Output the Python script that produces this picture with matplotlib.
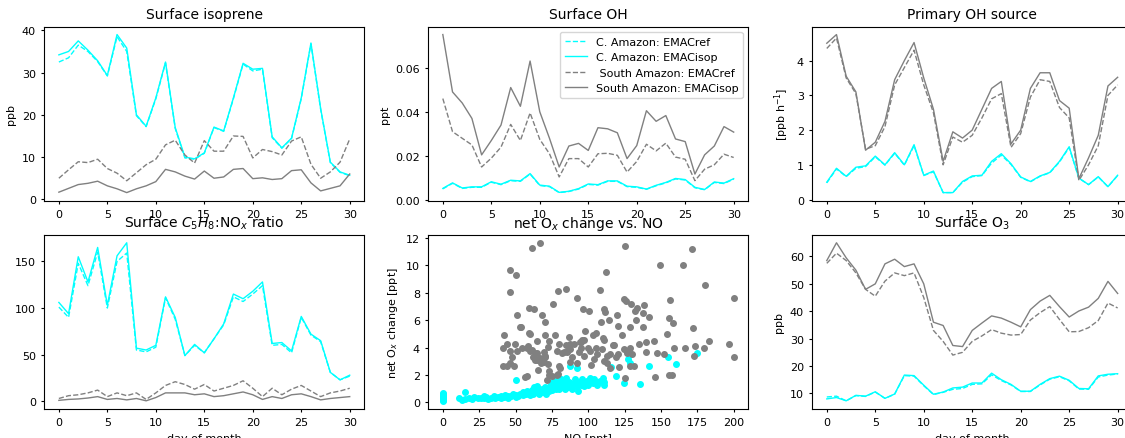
import numpy as np
from matplotlib import pyplot as plt

days = list(range(31))

# surface isoprene [ppb]
iso_c_ref = [32.5, 33.5, 36.5, 35.0, 32.6, 29.2, 38.5, 35.0, 19.8, 17.2, 23.8, 32.3, 16.8, 9.8, 9.5,
             10.9, 17.0, 16.1, 23.8, 32.0, 30.4, 30.8, 14.6, 12.1, 14.4, 23.8, 36.8, 21.3, 8.7, 6.4, 5.6]
iso_c_isop = [34.2, 35.0, 37.5, 35.3, 32.8, 29.3, 39.0, 35.8, 20.0, 17.3, 24.0, 32.5, 17.0, 10.0, 9.6,
              11.0, 17.1, 16.2, 24.0, 32.2, 30.8, 31.0, 14.8, 12.2, 14.5, 24.0, 37.0, 21.5, 8.8, 6.5, 5.7]
iso_s_ref = [5.0, 7.0, 8.9, 8.7, 9.5, 7.3, 6.2, 4.4, 6.3, 8.2, 9.5, 12.9, 14.0, 10.5, 8.6,
             13.9, 11.4, 11.4, 15.0, 14.9, 9.8, 11.8, 11.3, 10.5, 13.8, 14.8, 8.3, 5.0, 6.5, 8.8, 14.3]
iso_s_isop = [1.7, 2.6, 3.5, 3.8, 4.3, 3.2, 2.5, 1.6, 2.5, 3.2, 4.2, 7.1, 6.5, 5.5, 4.8,
              6.7, 5.0, 5.3, 7.1, 7.3, 4.9, 5.1, 4.7, 4.9, 6.8, 7.0, 3.9, 2.0, 2.6, 3.2, 6.0]

# surface OH [ppt]
oh_c_ref = [0.0051, 0.0076, 0.0053, 0.0058, 0.0058, 0.0081, 0.0070, 0.0088, 0.0085, 0.0118, 0.0066,
            0.0061, 0.0034, 0.0039, 0.0050, 0.0071, 0.0068, 0.0085, 0.0085, 0.0061, 0.0058, 0.0049,
            0.0065, 0.0078, 0.0096, 0.0091, 0.0056, 0.0047, 0.0080, 0.0075, 0.0095]
oh_c_isop = [0.0053, 0.0078, 0.0055, 0.0060, 0.0060, 0.0083, 0.0072, 0.0090, 0.0087, 0.0120, 0.0068,
             0.0063, 0.0035, 0.0040, 0.0052, 0.0073, 0.0070, 0.0087, 0.0087, 0.0063, 0.0060, 0.0050,
             0.0067, 0.0080, 0.0098, 0.0093, 0.0058, 0.0048, 0.0082, 0.0077, 0.0097]
oh_s_ref = [0.046, 0.031, 0.028, 0.025, 0.015, 0.019, 0.024, 0.0343, 0.027, 0.0395, 0.0275,
            0.021, 0.0105, 0.0188, 0.0188, 0.015, 0.021, 0.0212, 0.0203, 0.0127, 0.0175, 0.0253,
            0.0223, 0.0258, 0.0195, 0.0185, 0.0088, 0.014, 0.016, 0.0208, 0.0193]
oh_s_isop = [0.075, 0.049, 0.044, 0.037, 0.0205, 0.027, 0.034, 0.051, 0.0425, 0.063, 0.040,
             0.028, 0.015, 0.0245, 0.0257, 0.0225, 0.0328, 0.0323, 0.0305, 0.0188, 0.0247, 0.0405,
             0.0357, 0.0383, 0.0277, 0.0265, 0.0118, 0.0205, 0.0245, 0.0333, 0.0308]

# primary OH source [ppb/h]
poh_c_ref = [0.48, 0.88, 0.66, 0.90, 0.95, 1.23, 0.99, 1.33, 0.99, 1.55, 0.69, 0.80, 0.20, 0.20, 0.50,
             0.66, 0.69, 1.05, 1.28, 1.01, 0.64, 0.51, 0.67, 0.77, 1.08, 1.50, 0.61, 0.43, 0.65, 0.37, 0.69]
poh_c_isop = [0.50, 0.90, 0.67, 0.93, 0.97, 1.25, 1.00, 1.35, 1.00, 1.58, 0.70, 0.82, 0.20, 0.20, 0.52,
              0.68, 0.70, 1.10, 1.32, 1.03, 0.65, 0.52, 0.68, 0.78, 1.10, 1.52, 0.62, 0.43, 0.66, 0.37, 0.70]
poh_s_ref = [4.35, 4.65, 3.50, 3.05, 1.45, 1.55, 2.10, 3.30, 3.80, 4.30, 3.30, 2.50, 1.00, 1.80, 1.65,
             1.85, 2.35, 2.90, 3.05, 1.50, 1.90, 2.95, 3.45, 3.40, 2.65, 2.35, 0.55, 1.00, 1.55, 3.00, 3.30]
poh_s_isop = [4.50, 4.75, 3.55, 3.10, 1.42, 1.65, 2.25, 3.45, 4.00, 4.52, 3.50, 2.60, 1.10, 1.95, 1.77,
              2.00, 2.60, 3.20, 3.40, 1.60, 2.00, 3.20, 3.65, 3.65, 2.85, 2.63, 0.60, 1.20, 1.85, 3.27, 3.52]

# surface C5H8:NOx ratio
rat_c_ref = [101, 90, 148, 124, 160, 100, 150, 159, 55, 53, 58, 111, 88, 49, 60,
             52, 67, 82, 112, 107, 115, 124, 60, 61, 52, 90, 71, 64, 31, 23, 27]
rat_c_isop = [106, 94, 155, 128, 165, 103, 156, 170, 57, 55, 60, 112, 90, 49, 61,
              52, 67, 83, 115, 110, 118, 128, 62, 63, 54, 91, 72, 65, 31, 23, 28]
rat_s_ref = [3, 6, 7, 9, 12, 5, 9, 6, 9, 2, 9, 17, 21, 18, 13,
             18, 11, 14, 17, 22, 14, 5, 14, 7, 13, 17, 11, 5, 9, 11, 14]
rat_s_isop = [1, 2, 2.5, 3.5, 5, 2, 3, 1.5, 3, 0.5, 4, 9, 9, 9, 7,
              8, 5, 6, 8, 10, 7, 2, 5, 3, 7, 8, 5, 1.5, 3, 4, 5]

# surface O3 [ppb]
o3_c_ref = [8.7, 9.0, 7.3, 9.2, 8.9, 10.5, 8.2, 9.7, 16.5, 16.3, 12.8, 9.6, 10.4, 11.5, 11.8,
            13.3, 13.5, 16.8, 14.7, 13.1, 10.7, 10.7, 13.1, 15.2, 16.1, 14.6, 11.6, 11.5, 16.0, 16.7, 17.1]
o3_c_isop = [8.0, 8.5, 7.3, 9.3, 9.0, 10.6, 8.2, 9.8, 16.7, 16.5, 13.0, 9.7, 10.5, 12.0, 12.3,
             13.8, 13.8, 17.4, 15.0, 13.3, 10.8, 10.8, 13.3, 15.4, 16.3, 14.8, 11.8, 11.7, 16.4, 17.0, 17.2]
o3_s_ref = [57.5, 61.2, 58.5, 54.0, 48.0, 45.5, 51.0, 54.0, 53.0, 54.0, 45.0, 33.0, 29.0, 24.0, 25.0,
            29.0, 31.0, 33.3, 32.0, 31.3, 31.5, 36.8, 39.5, 41.7, 37.0, 32.5, 32.6, 34.0, 36.6, 43.0, 41.2]
o3_s_isop = [58.5, 65.0, 59.5, 55.0, 48.0, 50.0, 57.3, 59.0, 56.3, 57.3, 50.0, 36.0, 34.8, 27.5, 27.1,
             33.0, 35.7, 38.3, 37.5, 36.0, 34.3, 40.6, 43.7, 45.8, 41.7, 37.9, 40.1, 41.5, 44.7, 50.9, 46.5]

# net Ox change vs NO, (NO [ppt], net Ox change [ppt])
c_amazon_pts = [
    (0, 0.12), (0, 0.2), (0, 0.28), (0, 0.35), (0, 0.42), (0, 0.5), (0, 0.58), (0, 0.65), (0, 0.72),
    (11, 0.3), (13, 0.2), (15.5, 0.73), (15, 0.25), (18, 0.3), (20, 0.25), (21.5, 0.4), (24, 0.3),
    (26, 0.35), (28, 0.5), (28, 0.3), (30, 0.4), (31, 0.25), (33, 0.35), (35, 0.45), (36, 0.3),
    (38, 0.4), (40, 0.45), (40, 0.3), (42, 0.4), (43, 0.55), (45, 0.35), (45, 0.5), (47, 0.45),
    (48, 0.6), (50, 0.4), (50, 0.55), (50, 1.66), (52, 0.5), (53, 0.65), (55, 0.55), (55, 0.75),
    (57, 0.6), (58, 0.8), (60, 0.55), (60, 0.7), (61, 0.9), (62, 0.65), (63, 1.1), (64, 0.75),
    (65, 0.9), (65, 1.2), (66, 0.65), (67, 0.85), (68, 1.0), (69, 0.75), (70, 0.9), (70, 1.15),
    (71, 0.6), (72, 1.0), (73, 0.8), (74, 1.2), (75, 0.9), (75, 1.5), (76, 1.1), (77, 1.3),
    (78, 0.95), (78, 1.6), (79, 1.2), (80, 1.0), (80, 1.4), (81, 1.7), (82, 1.15), (83, 1.5),
    (84, 1.0), (85, 1.3), (85, 1.8), (86, 1.1), (87, 1.5), (87.5, 2.68), (88, 1.2), (89, 1.0),
    (90, 1.4), (91, 1.7), (92, 2.5), (92, 1.2), (93, 0.8), (94, 1.5), (95, 1.3), (96, 1.7),
    (97, 1.2), (98, 1.4), (99, 1.55), (100, 1.6), (100, 1.25), (101, 1.8), (103, 1.4), (104, 1.7),
    (105, 1.5), (106, 1.3), (108, 1.6), (110, 1.8), (111, 1.25), (111, 1.5), (115.5, 2.6),
    (119, 1.9), (124.5, 1.4), (127, 3.17), (128.5, 2.85), (129, 3.53), (135.5, 1.34),
    (141.8, 2.68), (155, 3.34), (160, 2.8), (175, 3.6)]
south_pts = [
    (61, 11.3), (67, 11.65), (125.5, 11.4), (171, 11.2), (149, 10.0), (165, 10.0), (46, 9.7),
    (50.5, 9.3), (112, 9.5), (46, 8.05), (79.5, 8.1), (85, 8.3), (108, 8.2), (180.5, 8.6),
    (200, 7.6), (76, 7.2), (92, 7.6), (124.5, 7.55), (126, 7.4), (156, 7.5), (59.5, 6.9),
    (62.5, 6.8), (96.5, 6.8), (100.5, 6.65), (111, 6.8), (111.5, 6.6), (129.5, 7.2), (133.5, 6.9),
    (132, 6.7), (138, 7.1), (51, 6.4), (68, 6.4), (70, 5.9), (109, 5.9), (114, 6.0), (119.5, 6.4),
    (132.5, 6.0), (137.5, 6.5), (142, 6.2), (155.5, 6.15), (158, 5.8), (54, 5.5), (59.5, 5.05),
    (70, 4.95), (77, 4.95), (87, 4.8), (98, 5.2), (103.5, 4.95), (105, 5.05), (120.5, 5.6),
    (123, 4.95), (129, 5.5), (137.5, 5.5), (154, 5.0), (172, 5.4), (42, 4.9), (60, 5.0),
    (73, 4.45), (65, 4.45), (95.5, 4.55), (94, 4.4), (110, 4.7), (111, 4.55), (118, 4.2),
    (145, 4.5), (139.7, 4.4), (134.6, 4.27), (128.4, 4.0), (126.6, 3.6), (130, 3.54),
    (139.7, 3.66), (147, 3.6), (151.8, 3.5), (158.7, 3.95), (166.7, 4.0), (173.6, 4.1),
    (179.4, 4.0), (182.8, 4.46), (196.6, 4.3), (200, 3.3), (172.5, 3.37), (155.7, 2.0),
    (157.6, 2.0), (145.6, 1.88), (125.5, 1.76), (131.4, 2.68), (128.7, 2.63), (121, 2.56),
    (115, 2.5), (118.8, 3.3), (120.4, 3.54), (124.3, 3.9), (110.5, 3.05), (112.8, 3.37),
    (115, 3.54), (106, 3.54), (109.4, 3.9), (105.5, 4.0), (101.4, 3.78), (99.5, 4.0), (95, 4.0),
    (95, 4.4), (96.8, 4.56), (87.6, 4.3), (87.2, 3.9), (83, 3.66), (78.4, 3.73), (79.6, 4.27),
    (85.3, 3.66), (88.8, 3.3), (87.6, 2.93), (80.7, 2.5), (78.4, 2.0), (75, 1.95), (71.6, 1.66),
    (72.7, 2.3), (69.3, 2.93), (67, 3.24), (70.4, 3.3), (64.7, 3.6), (63.5, 3.12), (62, 3.3),
    (59.6, 3.78), (57.8, 4.0), (54.4, 4.0), (51, 3.78), (46.3, 3.78), (44, 4.27), (41.7, 4.0),
    (44, 2.68), (41.3, 2.63), (46.3, 2.88), (48.6, 2.63), (47.5, 3.3), (56.2, 1.88),
    (53.1, 5.48), (49.6, 4.27), (58.7, 4.1), (61, 3.8), (63.3, 3.6), (69.3, 3.68), (70.4, 3.4),
    (72, 4.05), (81.8, 3.6), (86.4, 3.8), (93.4, 3.7), (64.6, 3.1), (67.4, 2.9), (72.2, 2.8),
    (79.8, 2.67), (65.3, 2.38), (73.2, 2.0), (79, 2.1), (57.7, 1.95), (85, 4.2), (90.1, 4.3),
    (102, 2.7), (104, 3.2), (97, 3.4), (92, 2.9), (113, 2.9), (117, 4.2)]

plt.rcParams['font.size'] = 8
plt.rcParams['axes.titlesize'] = 10
plt.rcParams['axes.linewidth'] = 0.8
plt.rcParams['xtick.major.size'] = 2.5
plt.rcParams['ytick.major.size'] = 2.5

fig = plt.figure(figsize=(11.25, 4.39), dpi=100)
lefts = [0.0394, 0.3807, 0.7220]
bottoms = [0.541, 0.0667]
w, h = 0.2844, 0.396
axs = [[fig.add_axes([l, b, w, h]) for l in lefts] for b in bottoms]

cy = 'cyan'
gr = 'grey'
lw = 1.0


def four_lines(ax, c_ref, c_isop, s_ref, s_isop):
    ax.plot(days, c_ref, '--', color=cy, lw=lw, label='C. Amazon: EMACref')
    ax.plot(days, c_isop, '-', color=cy, lw=lw, label='C. Amazon: EMACisop')
    ax.plot(days, s_ref, '--', color=gr, lw=lw, label=' South Amazon: EMACref')
    ax.plot(days, s_isop, '-', color=gr, lw=lw, label='South Amazon: EMACisop')
    ax.set_xticks(range(0, 31, 5))


ax = axs[0][0]
four_lines(ax, iso_c_ref, iso_c_isop, iso_s_ref, iso_s_isop)
ax.set_title('Surface isoprene')
ax.set_ylabel('ppb')

ax = axs[0][1]
four_lines(ax, oh_c_ref, oh_c_isop, oh_s_ref, oh_s_isop)
ax.set_title('Surface OH')
ax.set_ylabel('ppt')
ax.set_yticks([0.0, 0.02, 0.04, 0.06])
ax.legend(loc='upper right', fontsize=8)

ax = axs[0][2]
four_lines(ax, poh_c_ref, poh_c_isop, poh_s_ref, poh_s_isop)
ax.set_title('Primary OH source')
ax.set_ylabel('[ppb h$^{-1}$]')

ax = axs[1][0]
four_lines(ax, rat_c_ref, rat_c_isop, rat_s_ref, rat_s_isop)
ax.set_title('Surface $C_5H_8$:NO$_x$ ratio')
ax.set_xlabel('day of month')

ax = axs[1][1]
c_pts = np.array(c_amazon_pts)
s_pts = np.array(south_pts)
ax.scatter(c_pts[:, 0], c_pts[:, 1], s=16, color=cy)
ax.scatter(s_pts[:, 0], s_pts[:, 1], s=16, color=gr)
ax.set_title('net O$_x$ change vs. NO')
ax.set_xlabel('NO [ppt]')
ax.set_ylabel('net O$_x$ change [ppt]')
ax.set_xticks(range(0, 201, 25))
ax.set_yticks(range(0, 13, 2))

ax = axs[1][2]
four_lines(ax, o3_c_ref, o3_c_isop, o3_s_ref, o3_s_isop)
ax.set_title('Surface O$_3$')
ax.set_ylabel('ppb')
ax.set_xlabel('day of month')

fig.savefig('out.png', dpi=100)
